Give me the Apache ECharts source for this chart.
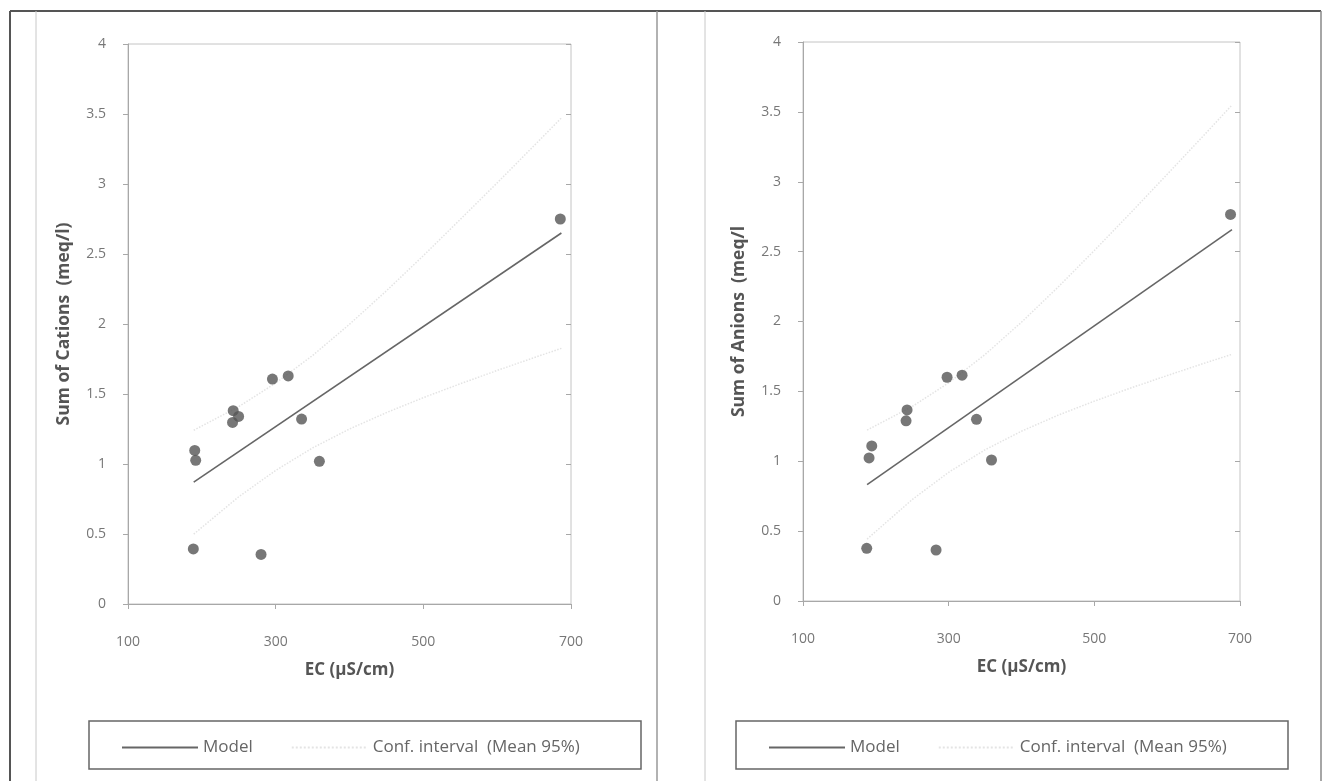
<!DOCTYPE html>
<html>
<head>
<meta charset="utf-8">
<script src="https://cdn.jsdelivr.net/npm/echarts@6/dist/echarts.min.js"></script>
<style>
html,body{margin:0;padding:0;background:#fff;}
#chart{width:1325px;height:781px;}
</style>
</head>
<body>
<div id="chart"></div>
<script>
// ---- Data ----
const xTicks = [100, 300, 500, 700];
const yTicks = [0, 0.5, 1, 1.5, 2, 2.5, 3, 3.5, 4];

// Left panel: Sum of Cations vs EC
const ecCations = [685.5, 190.4, 191.7, 188.5, 280.2, 295.6, 317, 242.5, 249.8, 241.6, 335.1, 359.2];
const sumCations = [2.75, 1.097, 1.026, 0.393, 0.354, 1.607, 1.629, 1.381, 1.34, 1.297, 1.321, 1.019];
const modelCatX = [189, 687];
const modelCatY = [0.87, 2.65];
const ciCatX = [189, 250, 300, 350, 400, 450, 500, 550, 600, 650, 687];
const ciCatUpper = [1.241, 1.410, 1.578, 1.775, 1.998, 2.237, 2.488, 2.747, 3.008, 3.274, 3.472];
const ciCatLower = [0.499, 0.766, 0.954, 1.115, 1.250, 1.367, 1.474, 1.573, 1.668, 1.760, 1.826];

// Right panel: Sum of Anions vs EC
const ecAnions = [687, 194.4, 190.7, 187.5, 282.7, 297.8, 318.4, 242.9, 241.5, 338.2, 358.8];
const sumAnions = [2.766, 1.11, 1.024, 0.377, 0.365, 1.601, 1.616, 1.367, 1.289, 1.30, 1.009];
const modelAnX = [188, 689];
const modelAnY = [0.833, 2.658];
const ciAnX = [188, 250, 300, 350, 400, 450, 500, 550, 600, 650, 689];
const ciAnUpper = [1.223, 1.392, 1.561, 1.764, 1.995, 2.245, 2.508, 2.778, 3.053, 3.330, 3.549];
const ciAnLower = [0.443, 0.726, 0.921, 1.082, 1.215, 1.329, 1.430, 1.524, 1.613, 1.700, 1.765];

const xTitle = 'EC (µS/cm)';
const yTitleLeft = 'Sum of Cations  (meq/l)';
const yTitleRight = 'Sum of Anions  (meq/l';
const legendNames = ['Model', 'Conf. interval  (Mean 95%)'];

// ---- Helpers ----
const zip = (a, b) => a.map((v, i) => [v, b[i]]);
const FONT = '"Open Sans", Lato, sans-serif';
const labelColor = '#777';
const axisColor = '#a8a8a8';

function xAxes(gridIndex) {
  const base = {
    type: 'value', gridIndex, min: xTicks[0], max: xTicks[xTicks.length - 1], interval: 200,
    splitLine: { show: false }
  };
  return [
    Object.assign({}, base, {
      name: xTitle, nameLocation: 'middle', nameGap: 58,
      nameTextStyle: { fontFamily: FONT, fontWeight: 'bold', fontSize: 17, color: '#555' },
      axisLine: { lineStyle: { color: axisColor } },
      axisTick: { length: 5, lineStyle: { color: axisColor } },
      axisLabel: { margin: 31, fontFamily: FONT, fontSize: 14, color: labelColor }
    }),
    Object.assign({}, base, {
      axisLine: { show: false },
      axisTick: { inside: true, length: 5, lineStyle: { color: axisColor } },
      axisLabel: { show: false }
    })
  ];
}
function yAxes(gridIndex, title) {
  const base = {
    type: 'value', gridIndex, min: 0, max: 4, interval: 0.5,
    splitLine: { show: false }
  };
  return [
    Object.assign({}, base, {
      name: title, nameLocation: 'middle', nameGap: 55, nameRotate: 90,
      nameTextStyle: { fontFamily: FONT, fontWeight: 'bold', fontSize: 17.5, color: '#555' },
      axisLine: { show: true, lineStyle: { color: axisColor } },
      axisTick: { show: true, length: 5, lineStyle: { color: axisColor } },
      axisLabel: { margin: 22, fontFamily: FONT, fontSize: 14, color: labelColor }
    }),
    Object.assign({}, base, {
      axisLine: { show: false },
      axisTick: { show: true, inside: true, length: 5, lineStyle: { color: axisColor } },
      axisLabel: { show: false }
    })
  ];
}
function panelSeries(xi, yi, ex, ey, mx, my, cx, cu, cl) {
  const ci = {
    type: 'line', name: legendNames[1], xAxisIndex: xi, yAxisIndex: yi, symbol: 'none',
    lineStyle: { color: '#e4e4e4', width: 1.5, type: 'dotted' }, itemStyle: { color: '#e4e4e4' },
    silent: true, z: 2
  };
  return [
    Object.assign({}, ci, { data: zip(cx, cu) }),
    Object.assign({}, ci, { data: zip(cx, cl) }),
    {
      type: 'line', name: legendNames[0], xAxisIndex: xi, yAxisIndex: yi, symbol: 'none',
      data: zip(mx, my), lineStyle: { color: '#666', width: 1.6 }, itemStyle: { color: '#666' }, z: 3
    },
    {
      type: 'scatter', name: 'Data', xAxisIndex: xi, yAxisIndex: yi, symbolSize: 11,
      data: zip(ex, ey), itemStyle: { color: '#555' }, z: 4
    }
  ];
}
function legendAt(left) {
  return {
    data: [
      { name: legendNames[0] },
      { name: legendNames[1] }
    ],
    left: left, top: 734, orient: 'horizontal',
    itemWidth: 76, itemHeight: 16, itemGap: 38,
    itemStyle: { opacity: 0 },
    selectedMode: false,
    textStyle: { fontFamily: FONT, fontSize: 17, color: '#666' }
  };
}

const chart = echarts.init(document.getElementById('chart'), null, { renderer: 'canvas' });
const option = {
  animation: false,
  backgroundColor: '#fff',
  grid: [
    { left: 128, top: 44, width: 443, height: 560, show: true, borderColor: '#c4c4c4', borderWidth: 1 },
    { left: 803, top: 42, width: 437, height: 559, show: true, borderColor: '#c4c4c4', borderWidth: 1 }
  ],
  xAxis: [...xAxes(0), ...xAxes(1)],
  yAxis: [...yAxes(0, yTitleLeft), ...yAxes(1, yTitleRight)],
  legend: [legendAt(116), legendAt(763)],
  series: [
    ...panelSeries(0, 0, ecCations, sumCations, modelCatX, modelCatY, ciCatX, ciCatUpper, ciCatLower),
    ...panelSeries(2, 2, ecAnions, sumAnions, modelAnX, modelAnY, ciAnX, ciAnUpper, ciAnLower)
  ],
  graphic: [
    // table frame
    { type: 'line', shape: { x1: 10, y1: 11, x2: 1321, y2: 11 }, style: { stroke: '#555', lineWidth: 2 } },
    { type: 'line', shape: { x1: 10, y1: 11, x2: 10, y2: 781 }, style: { stroke: '#555', lineWidth: 2 } },
    { type: 'line', shape: { x1: 1321, y1: 11, x2: 1321, y2: 781 }, style: { stroke: '#888', lineWidth: 1.5 } },
    { type: 'line', shape: { x1: 657, y1: 11, x2: 657, y2: 781 }, style: { stroke: '#999', lineWidth: 1.5 } },
    { type: 'line', shape: { x1: 36, y1: 11, x2: 36, y2: 781 }, style: { stroke: '#c8c8c8', lineWidth: 1 } },
    { type: 'line', shape: { x1: 705, y1: 11, x2: 705, y2: 781 }, style: { stroke: '#c8c8c8', lineWidth: 1 } },
    // legend boxes
    { type: 'rect', shape: { x: 89, y: 721, width: 552, height: 48 }, style: { fill: 'none', stroke: '#666', lineWidth: 1.5 }, z: -1 },
    { type: 'rect', shape: { x: 736, y: 721, width: 552, height: 48 }, style: { fill: 'none', stroke: '#666', lineWidth: 1.5 }, z: -1 }
  ]
};
chart.setOption(option);
</script>
</body>
</html>
